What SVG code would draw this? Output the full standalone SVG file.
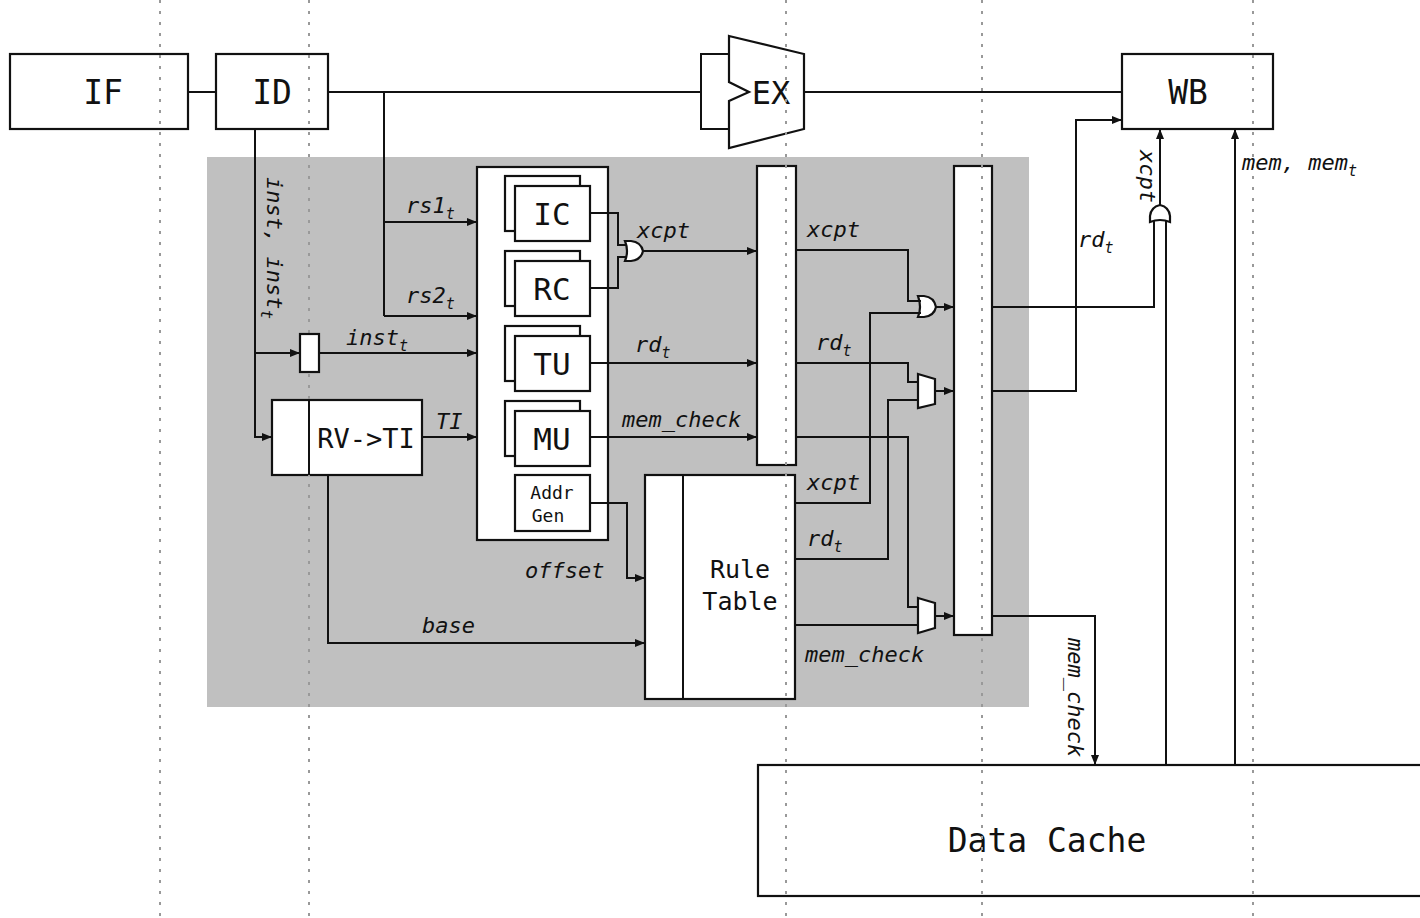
<svg xmlns="http://www.w3.org/2000/svg" width="1420" height="918" viewBox="0 0 1420 918">
<style>
.box{fill:#fff;stroke:#111;stroke-width:2.2}
.w{fill:none;stroke:#111;stroke-width:2}
.big{font-family:"DejaVu Sans Mono","Liberation Mono",monospace;fill:#111;text-anchor:middle}
.lbl{font-family:"DejaVu Sans Mono","Liberation Mono",monospace;font-style:italic;font-size:22px;fill:#111}
.dot{stroke:#999;stroke-width:2;stroke-dasharray:3 8}
</style>
<defs>
<marker id="ah" viewBox="0 0 10 10" refX="10" refY="5" markerWidth="10" markerHeight="10" markerUnits="userSpaceOnUse" orient="auto">
<path d="M0,1 L10,5 L0,9 z" fill="#111"/>
</marker>
</defs>
<rect width="1420" height="918" fill="#fff"/>
<rect id="tagbox" x="207" y="157" width="822" height="550" fill="#c0c0c0"/>

<g id="IF"><rect class="box" x="10" y="54" width="178" height="75"/><text class="big" x="103" y="104" font-size="33">IF</text></g>
<g id="ID"><rect class="box" x="216" y="54" width="112" height="75"/><text class="big" x="272" y="104" font-size="33">ID</text></g>
<g id="EX">
<path class="w" d="M701,92 V54 H729 M701,92 V129 H729"/>
<path class="box" d="M729,36 L804,54 L804,129 L729,148 L729,101 L749,92 L729,82 Z"/>
<text class="big" x="771" y="104" font-size="32">EX</text>
</g>
<g id="WB"><rect class="box" x="1122" y="54" width="151" height="75"/><text class="big" x="1188" y="104" font-size="33">WB</text></g>

<g id="RVTI"><rect class="box" x="272" y="400" width="150" height="75"/><text class="big" x="366" y="448" font-size="27">RV-&gt;TI</text></g>

<g id="TagUnit">
<rect class="box" x="477" y="167" width="131" height="373"/>
<g id="IC"><rect class="box" x="505" y="176" width="75" height="55"/><rect class="box" x="515" y="186" width="75" height="55"/><text class="big" x="552" y="225" font-size="31">IC</text></g>
<g id="RC"><rect class="box" x="505" y="251" width="75" height="55"/><rect class="box" x="515" y="261" width="75" height="55"/><text class="big" x="552" y="300" font-size="31">RC</text></g>
<g id="TU"><rect class="box" x="505" y="326" width="75" height="55"/><rect class="box" x="515" y="336" width="75" height="55"/><text class="big" x="552" y="375" font-size="31">TU</text></g>
<g id="MU"><rect class="box" x="505" y="401" width="75" height="55"/><rect class="box" x="515" y="411" width="75" height="55"/><text class="big" x="552" y="450" font-size="31">MU</text></g>
<g id="AddrGen"><rect class="box" x="515" y="475" width="75" height="56"/><text class="big" x="552" y="499" font-size="18">Addr</text><text class="big" x="548" y="522" font-size="18">Gen</text></g>
</g>

<g id="PipeReg1"><rect class="box" x="757" y="166" width="39" height="299"/></g>
<g id="PipeReg2"><rect class="box" x="954" y="166" width="38" height="469"/></g>
<g id="RuleTable"><rect class="box" x="645" y="475" width="150" height="224"/><line class="w" x1="683" y1="475" x2="683" y2="699"/><text class="big" x="740" y="578" font-size="25">Rule</text><text class="big" x="740" y="610" font-size="25">Table</text></g>
<g id="DataCache"><rect class="box" x="758" y="765" width="670" height="131"/><text class="big" x="1047" y="852" font-size="33">Data Cache</text></g>

<g id="gates">
<path id="or1" class="box" d="M625,241 H631 Q641,242 643,251 Q641,260 631,261 H625 Q629,251 625,241 Z"/>
<path id="or2" class="box" d="M918,296 H924 Q934,297 936,307 Q934,316 924,317 H918 Q922,307 918,296 Z"/>
<path id="or3" class="box" d="M1150,222 V216 Q1151,207 1160,205 Q1169,207 1170,216 V222 Q1160,218 1150,222 Z"/>
<polygon id="mux1" class="box" points="918,374 935,379 935,404 918,408"/>
<polygon id="mux2" class="box" points="918,598 935,603 935,628 918,633"/>
</g>

<g id="grid">
<line class="dot" x1="160" y1="0" x2="160" y2="918"/>
<line class="dot" x1="309" y1="0" x2="309" y2="918"/>
<line class="dot" x1="786" y1="0" x2="786" y2="918"/>
<line class="dot" x1="982" y1="0" x2="982" y2="918"/>
<line class="dot" x1="1253" y1="0" x2="1253" y2="918"/>
</g>

<g id="InstReg"><rect class="box" x="300" y="334" width="19" height="38"/></g>
<line id="RVTI-split" class="w" x1="309" y1="400" x2="309" y2="475"/>

<g id="connectors" class="w">
<path d="M188,92 H216"/>
<path d="M328,92 H701"/>
<path d="M804,92 H1122"/>
<path d="M384,92 V316"/>
<path d="M384,222 H477" marker-end="url(#ah)"/>
<path d="M384,316 H477" marker-end="url(#ah)"/>
<path d="M255,129 V437 H272" marker-end="url(#ah)"/>
<path d="M255,353 H300" marker-end="url(#ah)"/>
<path d="M319,353 H477" marker-end="url(#ah)"/>
<path d="M422,437 H477" marker-end="url(#ah)"/>
<path d="M328,475 V643 H645" marker-end="url(#ah)"/>
<path d="M590,503 H627 V578 H645" marker-end="url(#ah)"/>
<path d="M590,213 H618 V245 H627"/>
<path d="M590,288 H618 V257 H627"/>
<path d="M643,251 H757" marker-end="url(#ah)"/>
<path d="M590,363 H757" marker-end="url(#ah)"/>
<path d="M590,437 H757" marker-end="url(#ah)"/>
<path d="M796,250 H908 V301 H921"/>
<path d="M796,503 H870 V313 H921"/>
<path d="M936,307 H954" marker-end="url(#ah)"/>
<path d="M796,363 H908 V382 H918"/>
<path d="M796,559 H888 V400 H918"/>
<path d="M935,391 H954" marker-end="url(#ah)"/>
<path d="M796,437 H908 V607 H918"/>
<path d="M796,625 H918"/>
<path d="M935,616 H954" marker-end="url(#ah)"/>
<path d="M992,307 H1154 V220"/>
<path d="M1166,765 V220"/>
<path d="M1160,205 V129" marker-end="url(#ah)"/>
<path d="M992,391 H1076 V120 H1122" marker-end="url(#ah)"/>
<path d="M992,616 H1095 V765" marker-end="url(#ah)"/>
<path d="M1235,765 V129" marker-end="url(#ah)"/>
</g>

<g id="labels">
<text class="lbl" transform="translate(267,177) rotate(90)" font-size="23">inst, inst<tspan dy="6" font-size="16">t</tspan></text>
<text class="lbl" x="406" y="213">rs1<tspan dy="6" font-size="15">t</tspan></text>
<text class="lbl" x="406" y="303">rs2<tspan dy="6" font-size="15">t</tspan></text>
<text class="lbl" x="346" y="345">inst<tspan dy="6" font-size="15">t</tspan></text>
<text class="lbl" x="436" y="429">TI</text>
<text class="lbl" x="637" y="238">xcpt</text>
<text class="lbl" x="635" y="352">rd<tspan dy="6" font-size="15">t</tspan></text>
<text class="lbl" x="622" y="427">mem_check</text>
<text class="lbl" x="807" y="237">xcpt</text>
<text class="lbl" x="816" y="350">rd<tspan dy="6" font-size="15">t</tspan></text>
<text class="lbl" x="807" y="490">xcpt</text>
<text class="lbl" x="807" y="546">rd<tspan dy="6" font-size="15">t</tspan></text>
<text class="lbl" x="805" y="662">mem_check</text>
<text class="lbl" x="525" y="578">offset</text>
<text class="lbl" x="422" y="633">base</text>
<text class="lbl" x="1078" y="247">rd<tspan dy="6" font-size="15">t</tspan></text>
<text class="lbl" x="1242" y="170">mem, mem<tspan dy="6" font-size="15">t</tspan></text>
<text class="lbl" transform="translate(1140,150) rotate(90)">xcpt</text>
<text class="lbl" transform="translate(1068,638) rotate(90)">mem_check</text>
</g>
</svg>
